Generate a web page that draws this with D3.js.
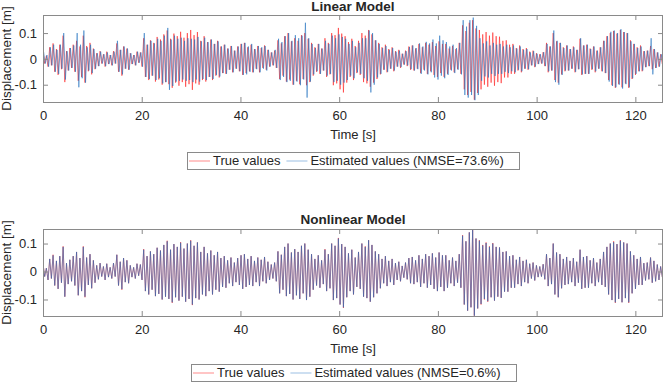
<!DOCTYPE html>
<html><head><meta charset="utf-8">
<script src="https://cdn.jsdelivr.net/npm/d3@7"></script>
<style>
body{margin:0;background:#fff}
text{font-family:"Liberation Sans",Arial,Helvetica,sans-serif;fill:#262626}
</style>
</head><body>
<svg id="chart" width="664" height="383"></svg>
<script>
// ---------------- data ----------------
const xTicks = [0, 20, 40, 60, 80, 100, 120];
const yTicks = [-0.1, 0, 0.1];
const yTickLabels = ["-0.1", "0", "0.1"];
const cycleStep = 0.68;           // seconds per oscillation cycle (sampling of extrema)
const timeRange = [0, 125.6];
const estimateLag = [0.12, 0];    // observed time lag of each estimate (s)

// True displacement: positive peaks / negative troughs per cycle (mm)
const truePeaks = [
 28,12,45,60,38,55,90,30,42,55, 70,48,90,50,62,40,22,30,18,28,
 15,30,60,35,48,40,22,15,28,25, 80,55,72,62,85,75,95,110,78,98,
 88,105,82,100,112,92,104,70,88,65, 75,58,70,48,55,40,50,32,48,58,
 62,45,55,38,50,42,52,35,25,32, 72,60,88,100,68,80,70,92,100,78,
 62,45,58,40,80,62,100,92,120,98, 88,65,78,50,70,100,90,112,95,72,
 62,45,55,38,45,30,35,20,32,48, 52,40,58,45,62,55,65,50,68,58,
 58,40,50,38,62,130,108,140,150,118, 112,95,104,90,102,88,86,70,72,55,
 58,42,52,38,42,28,32,22,18,26, 62,48,100,68,62,45,52,38,48,35,
 78,52,55,40,48,32,45,70,88,100, 108,98,112,104,100,72,58,45,52,30,
 32,50,38,25,18];
const trueTroughs = [
 18,30,25,50,62,40,90,45,35,50, 85,70,92,48,60,40,28,18,30,20,
 25,18,50,65,38,42,20,25,15,30, 70,82,65,88,80,100,90,98,112,92,
 104,90,108,98,120,95,100,82,88,70, 82,65,72,55,58,42,52,38,48,62,
 55,48,52,38,52,35,42,30,25,35, 78,65,88,80,100,85,98,78,102,90,
 65,50,58,45,70,60,102,95,118,130, 92,70,82,55,62,90,95,108,92,78,
 60,42,52,38,48,30,35,22,28,42, 45,38,55,42,58,48,62,70,55,70,
 58,42,52,40,58,118,140,128,158,132, 118,100,108,92,104,90,94,72,72,58,
 58,45,52,38,42,25,32,20,18,28, 52,45,82,92,60,48,45,38,52,40,
 62,58,58,42,52,38,48,55,82,102, 112,98,110,95,112,78,62,48,48,32,
 28,40,35,30,20];

// Linear model estimate (mm)
const linearPeaks = [
 28,15,45,55,35,55,100,30,42,52, 100,55,110,45,55,38,22,28,18,25,
 15,28,70,35,48,40,22,15,28,25, 100,55,70,60,78,70,90,120,75,90,
 78,82,70,80,78,75,85,68,82,65, 75,58,68,48,55,40,50,32,48,58,
 62,48,58,38,50,45,50,35,25,35, 78,65,88,100,70,92,80,90,140,80,
 58,42,58,40,70,58,90,80,95,85, 78,58,70,45,62,80,80,110,100,72,
 58,42,50,35,42,28,32,20,30,46, 52,42,60,48,66,60,75,60,90,72,
 65,48,55,42,62,150,125,150,160,128, 80,60,68,52,62,55,58,48,55,45,
 52,40,48,35,38,25,30,20,18,26, 58,48,110,70,62,42,52,38,45,35,
 80,52,55,38,48,32,45,70,88,105, 110,100,115,104,100,68,58,42,48,30,
 32,80,38,25,18];
const linearTroughs = [
 18,30,25,50,58,38,80,45,35,50, 110,75,92,45,55,38,28,18,28,20,
 25,18,50,60,38,42,20,25,15,30, 70,78,65,82,75,95,90,120,105,88,
 85,80,85,82,90,80,88,78,82,70, 78,62,68,55,58,42,52,38,48,62,
 60,50,52,40,52,38,45,30,25,35, 82,70,90,85,100,88,102,80,150,88,
 60,48,58,45,65,58,90,85,100,92, 82,65,75,52,58,75,85,130,100,72,
 58,42,50,38,45,30,32,22,25,40, 45,40,58,45,60,52,72,80,65,75,
 62,45,55,42,60,140,150,140,160,140, 85,68,72,58,66,58,58,50,55,48,
 52,42,48,38,40,25,30,20,18,28, 48,45,90,100,62,45,45,38,50,40,
 60,58,58,40,48,38,48,55,88,105, 110,100,115,98,110,75,58,48,45,32,
 28,60,35,30,20];

// Nonlinear model estimate (mm)
const nonlinearPeaks = [
 28,12,45,58,38,55,88,30,42,55, 70,48,88,50,62,40,22,30,18,28,
 15,30,60,35,48,40,22,15,28,25, 78,55,72,62,85,75,95,108,78,98,
 88,103,82,100,110,92,104,70,88,65, 75,58,70,48,55,40,50,32,48,58,
 62,45,55,38,50,42,52,35,25,32, 72,60,88,100,68,80,70,92,100,78,
 62,45,58,40,78,62,100,92,118,98, 88,65,78,50,70,100,88,112,95,72,
 62,45,55,38,45,30,35,20,32,48, 52,40,58,45,62,55,65,50,68,58,
 58,40,50,38,62,128,108,140,148,118, 110,93,102,88,100,88,86,70,72,55,
 58,42,52,38,42,28,32,22,18,26, 62,48,100,68,62,45,52,38,48,35,
 78,52,55,40,48,32,45,70,88,100, 105,98,110,104,100,72,58,45,52,30,
 32,50,38,25,18];
const nonlinearTroughs = [
 18,30,25,50,62,40,90,45,35,50, 85,70,90,48,60,40,28,18,30,20,
 25,18,50,63,38,42,20,25,15,30, 70,82,65,88,80,100,90,98,110,92,
 104,90,108,98,118,95,100,82,88,70, 82,65,72,55,58,42,52,38,48,62,
 55,48,52,38,52,35,42,30,25,35, 78,65,88,80,100,85,98,78,102,90,
 65,50,58,45,70,60,102,95,118,128, 92,70,82,55,62,90,95,108,92,78,
 60,42,52,38,48,30,35,22,28,42, 45,38,55,42,58,48,62,70,55,70,
 58,42,52,40,58,118,140,128,158,132, 116,98,106,92,104,90,94,72,72,58,
 58,45,52,38,42,25,32,20,18,28, 52,45,82,92,60,48,45,38,52,40,
 62,58,58,42,52,38,48,55,82,102, 110,98,110,95,110,78,62,48,48,32,
 28,40,35,30,20];

const seriesNames = ["True values", "Estimated values"];
const panelTitles = ["Linear Model", "Nonlinear Model"];
const nmseValues = ["73.6%", "0.6%"];
const yDomains = [[-0.167, 0.170], [-0.159, 0.152]];

// ---------------- drawing ----------------
const svg = d3.select("#chart");
const left = 43, right = 663;
const layouts = [
  {top: 15, bottom: 102, titleY: 11, xlabY: 139, legend: {x0: 187, x1: 519, y0: 152, y1: 169}},
  {top: 229, bottom: 316, titleY: 224, xlabY: 353, legend: {x0: 191, x1: 516, y0: 364, y1: 381}}
];
const colTrue = "#ff1a1a", colEst = "#1f6fbf";
const opTrue = 0.7, opEst = 0.7;

function toPoints(peaks, troughs, lag) {
  const pts = [];
  peaks.forEach((p, k) => {
    pts.push({t: k * cycleStep + lag, v: p / 1000});
    pts.push({t: k * cycleStep + cycleStep / 2 + lag, v: -troughs[k] / 1000});
  });
  return pts;
}
const trueSeries = toPoints(truePeaks, trueTroughs, 0);
const estSeries = [toPoints(linearPeaks, linearTroughs, estimateLag[0]),
                   toPoints(nonlinearPeaks, nonlinearTroughs, estimateLag[1])];

layouts.forEach((L, i) => {
  const x = d3.scaleLinear().domain(timeRange).range([left, right]);
  const y = d3.scaleLinear().domain(yDomains[i]).range([L.bottom, L.top]);
  const g = svg.append("g");

  g.append("clipPath").attr("id", "clip" + i).append("rect")
    .attr("x", left).attr("y", L.top).attr("width", right - left).attr("height", L.bottom - L.top);

  const line = d3.line().x(d => x(d.t)).y(d => y(d.v));
  const plot = g.append("g").attr("clip-path", `url(#clip${i})`);
  plot.append("path").datum(trueSeries).attr("d", line)
    .attr("fill", "none").attr("stroke", colTrue).attr("stroke-opacity", opTrue).attr("stroke-width", 0.8);
  plot.append("path").datum(estSeries[i]).attr("d", line)
    .attr("fill", "none").attr("stroke", colEst).attr("stroke-opacity", opEst).attr("stroke-width", 0.8);

  const axisCol = "#8a8a8a";
  const xb = g.append("g").attr("transform", `translate(0,${L.bottom})`)
    .call(d3.axisBottom(x).tickValues(xTicks).tickSizeInner(-5).tickSizeOuter(0).tickPadding(9));
  const xt = g.append("g").attr("transform", `translate(0,${L.top})`)
    .call(d3.axisTop(x).tickValues(xTicks).tickSizeInner(-5).tickSizeOuter(0).tickFormat(""));
  const yl = g.append("g").attr("transform", `translate(${left},0)`)
    .call(d3.axisLeft(y).tickValues(yTicks).tickSizeInner(-5).tickSizeOuter(0).tickPadding(6)
      .tickFormat((d, j) => yTickLabels[j]));
  const yr = g.append("g").attr("transform", `translate(${right},0)`)
    .call(d3.axisRight(y).tickValues(yTicks).tickSizeInner(-5).tickSizeOuter(0).tickFormat(""));
  [xb, xt, yl, yr].forEach(a => {
    a.select(".domain").remove();
    a.selectAll("line").attr("stroke", axisCol);
    a.selectAll("text").attr("font-size", 13).attr("fill", "#262626")
      .style("font-family", '"Liberation Sans",Arial,sans-serif');
  });
  g.append("rect").attr("x", left + 0.5).attr("y", L.top + 0.5)
    .attr("width", right - left - 1).attr("height", L.bottom - L.top)
    .attr("fill", "none").attr("stroke", axisCol).attr("stroke-width", 1);

  g.append("text").attr("x", (left + right) / 2).attr("y", L.titleY).attr("text-anchor", "middle")
    .attr("font-size", 13.5).attr("font-weight", "bold").attr("fill", "#000").text(panelTitles[i]);
  g.append("text").attr("x", (left + right) / 2).attr("y", L.xlabY).attr("text-anchor", "middle")
    .attr("font-size", 13).text("Time [s]");
  g.append("text").attr("transform", `translate(11,${(L.top + L.bottom) / 2}) rotate(-90)`)
    .attr("text-anchor", "middle").attr("font-size", 13.5).text("Displacement [m]");

  const lg = L.legend, cy = (lg.y0 + lg.y1) / 2;
  g.append("rect").attr("x", lg.x0 + 0.5).attr("y", lg.y0 + 0.5)
    .attr("width", lg.x1 - lg.x0).attr("height", lg.y1 - lg.y0)
    .attr("fill", "#fff").attr("stroke", "#8a8a8a");
  const entries = [
    {c: colTrue, o: 0.5, label: seriesNames[0]},
    {c: colEst, o: 0.45, label: `${seriesNames[1]} (NMSE=${nmseValues[i]})`}
  ];
  let cx = lg.x0 + 2;
  entries.forEach(e => {
    g.append("line").attr("x1", cx).attr("x2", cx + 21).attr("y1", cy + 0.5).attr("y2", cy + 0.5)
      .attr("stroke", e.c).attr("stroke-opacity", e.o).attr("stroke-width", 1);
    const t = g.append("text").attr("x", cx + 24).attr("y", cy + 4.7).attr("font-size", 13).text(e.label);
    cx = cx + 24 + t.node().getComputedTextLength() + 6;
  });
});
</script>
</body></html>
